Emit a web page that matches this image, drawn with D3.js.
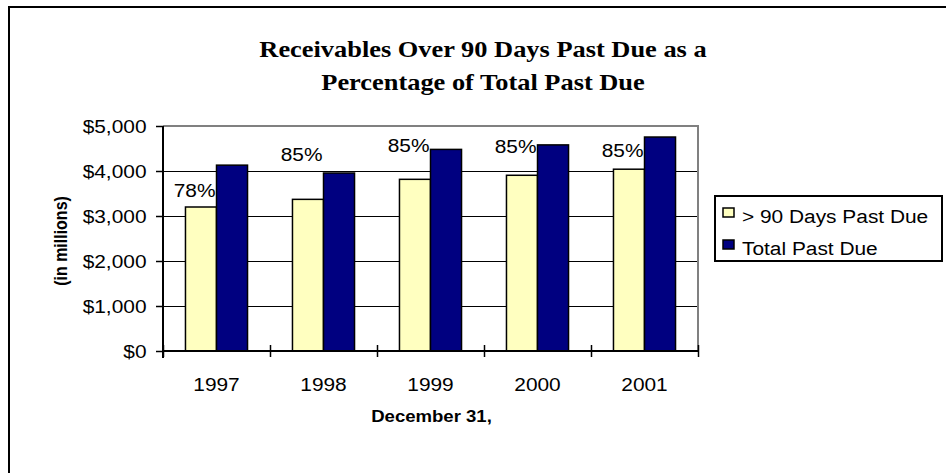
<!DOCTYPE html>
<html>
<head>
<meta charset="utf-8">
<script src="https://cdn.jsdelivr.net/npm/d3@7"></script>
<style>
  html, body { margin: 0; padding: 0; background: #fff; }
  svg { display: block; }
</style>
</head>
<body>
<svg id="chart" width="946" height="473"></svg>
<script>
// ---- data ----
const years = ["1997", "1998", "1999", "2000", "2001"];
const over90 = [3200, 3370, 3815, 3905, 4040];       // > 90 Days Past Due ($ millions)
const totalPastDue = [4130, 3955, 4480, 4580, 4755]; // Total Past Due ($ millions)
const pctLabels = ["78%", "85%", "85%", "85%", "85%"];
const pctLabelLevel = [3416, 4222, 4429, 4407, 4318]; // value level where each % label sits
const yTicks = [0, 1000, 2000, 3000, 4000, 5000];
const seriesNames = ["> 90 Days Past Due", "Total Past Due"];
const titleLines = ["Receivables Over 90 Days Past Due as a", "Percentage of Total Past Due"];

// ---- layout ----
const W = 946, H = 473;
const plot = { left: 163, right: 698, top: 126, bottom: 351 };
const SX = 1.16; // horizontal stretch seen in the reference
const FS = 18;
const colors = ["#FFFFC0", "#000080"];
const sans = "Arial, 'Liberation Sans', Helvetica, sans-serif";
const serif = "'Times New Roman', 'Liberation Serif', Times, serif";

const svg = d3.select("#chart");

// outer frame
svg.append("rect")
  .attr("x", 9).attr("y", 7).attr("width", 945).attr("height", 480)
  .attr("fill", "#fff").attr("stroke", "#000").attr("stroke-width", 2);

// title
svg.append("g").selectAll("text").data(titleLines).join("text")
  .attr("transform", (d, i) => `translate(483,${57 + i * 33}) scale(1.1,1)`)
  .attr("text-anchor", "middle")
  .attr("font-family", serif).attr("font-weight", "bold").attr("font-size", 24)
  .attr("fill", "#000")
  .text(d => d);

// scales
const y = d3.scaleLinear().domain([0, 5000]).range([plot.bottom, plot.top]);
const x = d3.scaleBand().domain(years).range([plot.left, plot.right])
  .paddingInner(0.42).paddingOuter(0.21);
const xs = d3.scaleBand().domain([0, 1]).range([0, x.bandwidth()]);
const xb = d3.scaleLinear().domain([0, years.length]).range([plot.left, plot.right]);

// gridlines
svg.append("g").selectAll("line").data(yTicks.filter(t => t > 0 && t < 5000)).join("line")
  .attr("x1", plot.left).attr("x2", plot.right)
  .attr("y1", d => Math.round(y(d)) + 0.5).attr("y2", d => Math.round(y(d)) + 0.5)
  .attr("stroke", "#000").attr("stroke-width", 1);

// plot area top/right border (gray)
svg.append("path")
  .attr("d", `M${plot.left},${plot.top}H${plot.right}V${plot.bottom}`)
  .attr("fill", "none").attr("stroke", "#808080").attr("stroke-width", 2);

// bars
const series = [over90, totalPastDue];
const barG = svg.append("g");
series.forEach((vals, si) => {
  barG.append("g").selectAll("rect").data(vals).join("rect")
    .attr("x", (d, i) => x(years[i]) + xs(si))
    .attr("y", d => y(d))
    .attr("width", xs.bandwidth())
    .attr("height", d => y(0) - y(d))
    .attr("fill", colors[si])
    .attr("stroke", "#000").attr("stroke-width", 1.5);
});

// percentage labels
svg.append("g").selectAll("text").data(pctLabels).join("text")
  .attr("transform", (d, i) => `translate(${x(years[i]) + x.bandwidth() / 2 - 1},${y(pctLabelLevel[i])}) scale(${SX},1)`)
  .attr("text-anchor", "end")
  .attr("font-family", sans).attr("font-size", FS).attr("fill", "#000")
  .text(d => d);

// y axis
const yAxis = svg.append("g").attr("transform", `translate(${plot.left},0)`)
  .call(d3.axisLeft(y).tickValues(yTicks).tickSize(7).tickFormat(d => "$" + d3.format(",")(d)));
yAxis.select(".domain").remove();
yAxis.selectAll(".tick line").attr("stroke", "#000").attr("stroke-width", 1.5);
yAxis.selectAll(".tick text")
  .attr("x", null).attr("dy", null)
  .attr("transform", `translate(-16.5,6.5) scale(${SX},1)`)
  .attr("font-family", sans).attr("font-size", FS).attr("fill", "#000");
svg.append("line")
  .attr("x1", plot.left).attr("x2", plot.left).attr("y1", plot.top).attr("y2", plot.bottom + 7)
  .attr("stroke", "#000").attr("stroke-width", 2);

// x axis line
svg.append("line")
  .attr("x1", plot.left - 1).attr("x2", plot.right + 1).attr("y1", plot.bottom).attr("y2", plot.bottom)
  .attr("stroke", "#000").attr("stroke-width", 2);
// boundary ticks (crossing)
const bt = svg.append("g").attr("transform", `translate(0,${plot.bottom})`)
  .call(d3.axisBottom(xb).tickValues(d3.range(years.length + 1)).tickSize(6).tickFormat(""));
bt.select(".domain").remove();
bt.selectAll(".tick line").attr("y1", -6).attr("stroke", "#000").attr("stroke-width", 1.5);

// category labels
const xAxis = svg.append("g").attr("transform", `translate(0,${plot.bottom})`)
  .call(d3.axisBottom(x).tickSize(0));
xAxis.select(".domain").remove();
xAxis.selectAll(".tick text")
  .attr("y", null).attr("dy", null)
  .attr("transform", `translate(0,40) scale(${SX},1)`)
  .attr("font-family", sans).attr("font-size", FS).attr("fill", "#000");

// axis titles
svg.append("text")
  .attr("transform", `translate(${(plot.left + plot.right) / 2 + 1},422) scale(${SX},1)`)
  .attr("text-anchor", "middle")
  .attr("font-family", sans).attr("font-weight", "bold").attr("font-size", 16).attr("fill", "#000")
  .text("December 31,");
svg.append("text")
  .attr("transform", `translate(67,241) scale(${SX},1) rotate(-90)`)
  .attr("text-anchor", "middle")
  .attr("font-family", sans).attr("font-weight", "bold").attr("font-size", 16).attr("fill", "#000")
  .text("(in millions)");

// legend
const lg = svg.append("g");
lg.append("rect").attr("x", 715).attr("y", 196).attr("width", 227).attr("height", 65)
  .attr("fill", "#fff").attr("stroke", "#000").attr("stroke-width", 2);
const li = lg.selectAll("g.item").data(seriesNames).join("g").attr("class", "item")
  .attr("transform", (d, i) => `translate(723,${208 + i * 32})`);
li.append("rect").attr("width", 11).attr("height", 9)
  .attr("fill", (d, i) => colors[i]).attr("stroke", "#000").attr("stroke-width", 1.5);
li.append("text")
  .attr("transform", `translate(19,15) scale(${SX},1)`)
  .attr("font-family", sans).attr("font-size", FS).attr("fill", "#000")
  .text(d => d);
</script>
</body>
</html>
